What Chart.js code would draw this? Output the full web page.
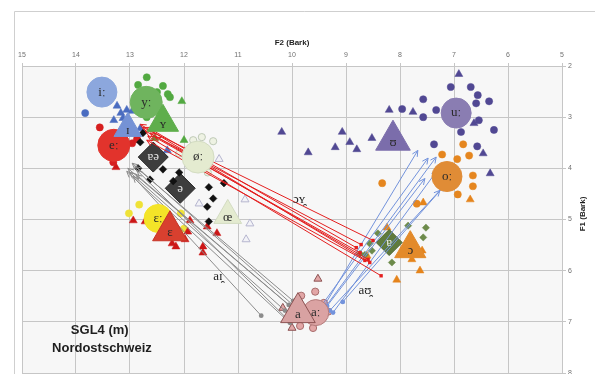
<!DOCTYPE html>
<html>
<head>
<meta charset="utf-8">
<script src="https://cdn.jsdelivr.net/npm/chart.js@4.4.0/dist/chart.umd.min.js"></script>
<style>
  html, body { margin: 0; padding: 0; background: #fff; }
  canvas { display: block; }
</style>
</head>
<body>
<canvas id="chart" width="595" height="374"></canvas>
<script>
// Vowel means (F2, F1 in Bark)
const LONG_LABELS = ['iː', 'yː', 'eː', 'øː', 'ɛː', 'oː', 'uː', 'aː'];
const LONG_F2 = [13.52, 12.70, 13.30, 11.74, 12.48, 7.13, 6.96, 9.56];
const LONG_F1 = [2.51, 2.71, 3.55, 3.78, 4.98, 4.16, 2.92, 6.82];

const SHORT_LABELS = ['ɪ', 'ʏ', 'ɛ', 'œ', 'ɔ', 'ʊ', 'a'];
const SHORT_F2 = [13.04, 12.39, 12.26, 11.19, 7.81, 8.13, 9.89];
const SHORT_F1 = [3.22, 3.10, 5.22, 4.92, 5.57, 3.45, 6.82];

const SCHWA_LABELS = ['ɐə', 'ə'];
const SCHWA_F2 = [12.57, 12.07];
const SCHWA_F1 = [3.78, 4.39];

const RVOC_LABELS = ['ɐ'];
const RVOC_F2 = [8.20];
const RVOC_F1 = [5.45];

// Single tokens [F2, F1]
const TOK_I_LONG = [[13.83, 2.92]];
const TOK_I_SHORT = [[13.24, 2.78], [13.17, 2.92], [13.06, 2.86], [12.96, 2.88], [13.30, 3.06], [13.13, 3.02], [12.81, 3.22], [12.31, 3.65]];
const TOK_Y_LONG = [[12.69, 2.22], [12.85, 2.37], [12.39, 2.39], [12.50, 2.51], [12.30, 2.55], [12.26, 2.61], [12.69, 3.00]];
const TOK_Y_SHORT = [[12.04, 2.69], [12.00, 3.45], [12.54, 3.41]];
const TOK_E_LONG = [[13.56, 3.20], [13.31, 3.88], [12.96, 3.51], [12.87, 3.43]];
const TOK_E_SHORT = [[13.26, 3.98], [12.94, 5.02], [12.72, 5.04], [11.89, 5.02], [11.93, 5.24], [11.98, 5.39], [12.22, 5.47], [12.15, 5.53], [11.65, 5.53], [11.65, 5.65], [11.57, 5.14], [11.39, 5.27]];
const TOK_EH_LONG = [[12.83, 4.71], [13.02, 4.88], [12.06, 4.88], [12.00, 5.18]];
const TOK_OE_LONG = [[11.83, 3.45], [11.67, 3.39], [11.46, 3.47], [12.09, 3.71], [11.56, 4.08]];
const TOK_OE_SHORT = [[11.35, 3.82], [10.87, 4.61], [10.78, 5.08], [10.85, 5.39], [11.72, 4.69]];
const TOK_U_LONG = [[7.06, 2.41], [6.69, 2.41], [6.56, 2.57], [6.59, 2.73], [6.35, 2.69], [7.57, 2.65], [7.33, 2.86], [7.57, 3.00], [7.96, 2.84], [6.54, 3.06], [6.87, 3.29], [6.26, 3.25], [6.57, 3.57], [7.37, 3.53]];
const TOK_U_SHORT = [[6.91, 2.16], [8.20, 2.86], [7.76, 2.90], [6.63, 3.12], [6.46, 3.71], [6.33, 4.10], [10.19, 3.29], [9.70, 3.69], [9.20, 3.59], [9.07, 3.29], [8.93, 3.49], [8.80, 3.63], [8.52, 3.41]];
const TOK_O_LONG = [[6.83, 3.53], [6.72, 3.75], [7.22, 3.73], [6.94, 3.82], [6.65, 4.14], [6.65, 4.35], [6.93, 4.51], [7.69, 4.69], [8.33, 4.29]];
const TOK_O_SHORT = [[6.70, 4.61], [7.57, 4.67], [8.24, 5.16], [7.59, 5.61], [7.63, 6.00], [8.06, 6.18], [8.61, 5.71], [7.78, 5.78]];
const TOK_A_LONG = [[9.57, 6.41], [9.83, 6.49], [9.41, 6.63], [9.33, 6.80], [9.61, 7.12], [9.85, 7.08]];
const TOK_A_SHORT = [[9.52, 6.16], [10.17, 6.73], [10.00, 7.12]];
const TOK_SCHWA = [[12.76, 3.31], [12.81, 3.49], [12.85, 4.00], [12.63, 4.22], [12.39, 4.02], [12.09, 4.08], [12.20, 4.25], [11.54, 4.37], [11.26, 4.29], [11.46, 4.59], [11.57, 4.75], [11.54, 5.04]];
const TOK_RVOC = [[7.85, 5.12], [7.52, 5.16], [7.57, 5.35], [7.81, 5.35], [8.41, 5.27], [8.56, 5.47], [8.52, 5.61], [8.65, 5.69], [8.74, 5.67], [8.15, 5.84]];

// Diphthong trajectories: onset -> offset
const OY_FROM = [[8.50, 5.41], [8.72, 5.49], [8.59, 5.78], [8.65, 5.80], [8.35, 6.10], [8.74, 5.65], [8.81, 5.55], [8.56, 5.84]];
const OY_TO = [[12.76, 3.20], [12.72, 3.27], [12.63, 3.31], [12.69, 3.45], [12.67, 3.37], [12.54, 3.39], [12.59, 3.25], [12.81, 3.14]];
const AI_FROM = [[10.06, 6.67], [10.13, 6.78], [10.57, 6.88], [9.98, 6.59], [9.94, 6.71], [10.09, 6.94], [10.04, 7.02], [9.89, 6.82]];
const AI_TO = [[13.04, 4.00], [13.00, 4.08], [12.94, 4.16], [12.91, 3.96], [12.96, 3.90], [12.87, 4.04], [13.06, 4.06], [12.89, 4.12]];
const AU_FROM = [[9.48, 6.82], [9.41, 6.75], [9.35, 6.69], [9.30, 6.78], [9.06, 6.61], [9.24, 6.82], [9.52, 6.78]];
const AU_TO = [[7.67, 3.65], [7.33, 3.78], [7.54, 4.20], [7.26, 4.43], [7.17, 4.33], [7.31, 4.04], [7.48, 3.80]];

const DIPH_LABELS = ['ɔʏ̯', 'aɪ̯', 'aʊ̯'];
const DIPH_F2 = [9.87, 11.37, 8.65];
const DIPH_F1 = [4.61, 6.12, 6.39];

const CAPTION = ['SGL4 (m)', 'Nordostschweiz'];
const CAPTION_F2 = [13.56, 13.52];
const CAPTION_F1 = [7.16, 7.51];

const X_TICKS = [5, 6, 7, 8, 9, 10, 11, 12, 13, 14, 15];
const Y_TICKS = [2, 3, 4, 5, 6, 7, 8];

// ---- helpers ----
const pts = arr => arr.map(([x, y]) => ({ x, y }));
const zip = (xs, ys) => xs.map((x, i) => ({ x, y: ys[i] }));

function tokens(data, style, color, opts = {}) {
  return Object.assign({
    data: pts(data),
    pointStyle: style,
    pointRadius: style === 'triangle' ? 4.6 : (style === 'rectRot' ? 4 : 3.6),
    backgroundColor: color,
    borderColor: color,
    borderWidth: 0.5,
    showLine: false
  }, opts);
}

function trajectories(from, to, color, startStyle) {
  return from.map((p, i) => ({
    data: pts([p, to[i]]),
    showLine: true,
    borderColor: color,
    borderWidth: 1,
    pointStyle: startStyle,
    pointRadius: [2.4, 0],
    backgroundColor: color,
    pointBorderWidth: 0,
    arrowColor: color
  }));
}

// back-to-front
const layers = [
  tokens(TOK_OE_SHORT, 'triangle', '#f2f2f7', { borderColor: '#b6b6cf', borderWidth: 1 }),
  tokens(TOK_OE_LONG, 'circle', '#eef2e3', { borderColor: '#bfcab7', borderWidth: 1 }),
  tokens(TOK_U_SHORT, 'triangle', '#514893'),
  tokens(TOK_U_LONG, 'circle', '#514893'),
  tokens(TOK_O_SHORT, 'triangle', '#e5841c'),
  tokens(TOK_O_LONG, 'circle', '#e5861f'),
  tokens(TOK_I_SHORT, 'triangle', '#4a6cc0'),
  tokens(TOK_I_LONG, 'circle', '#4a6cc0'),
  tokens(TOK_Y_LONG, 'circle', '#52a941'),
  tokens(TOK_Y_SHORT, 'triangle', '#52a941'),
  tokens(TOK_EH_LONG, 'circle', '#efe237'),
  tokens(TOK_E_SHORT, 'triangle', '#cc1717'),
  tokens(TOK_E_LONG, 'circle', '#d61f1f'),
  tokens(TOK_A_LONG, 'circle', '#e2a6a6', { borderColor: '#a86c6c', borderWidth: 1 }),
  tokens(TOK_A_SHORT, 'triangle', '#e2a6a6', { borderColor: '#8d5353', borderWidth: 1 }),
  {
    data: zip(RVOC_F2, RVOC_F1), pointStyle: 'rectRot', pointRadius: 13,
    backgroundColor: '#5f7b3d', borderColor: '#4e6630', borderWidth: 1,
    markerText: RVOC_LABELS, markerTextColor: '#eef0e6', markerFont: '13px "Liberation Serif"'
  },
  tokens(TOK_RVOC, 'rectRot', '#6d8b4b', { pointRadius: 3.6 }),
  {
    data: zip(SCHWA_F2, SCHWA_F1), pointStyle: 'rectRot', pointRadius: 15,
    backgroundColor: '#3d3d3d', borderColor: '#2a2a2a', borderWidth: 1,
    markerText: SCHWA_LABELS, markerTextColor: '#e6e6e6', markerFont: '13px "Liberation Serif"'
  },
  tokens(TOK_SCHWA, 'rectRot', '#111111', { pointRadius: 3.8 }),
  ...trajectories(AI_FROM, AI_TO, '#8c8c8c', 'circle'),
  ...trajectories(AU_FROM, AU_TO, '#7393dc', 'circle'),
  ...trajectories(OY_FROM, OY_TO, '#e41f1f', 'rect'),
  {
    data: zip(LONG_F2, LONG_F1), pointStyle: 'circle', pointRadius: [15, 16, 16, 16, 14, 15, 15, 13],
    backgroundColor: ['#8ca7dd', '#6fb45e', '#e2332c', '#e4ebd0', '#f4e428', '#e08c36', '#8a7db2', '#dba3a3'],
    borderColor: ['#8ca7dd', '#6fb45e', '#e2332c', '#d3dcc2', '#f4e428', '#e08c36', '#8a7db2', '#b57c7c'],
    borderWidth: 1,
    markerText: LONG_LABELS, markerTextColor: '#2a2a2a', markerFont: '13px "Liberation Serif"'
  },
  {
    data: zip(SHORT_F2, SHORT_F1), pointStyle: 'triangle', pointRadius: [16, 18, 20, 16, 18, 20, 20],
    backgroundColor: ['#7592d5', '#5fae4c', '#d8402f', '#e4ebd0', '#e38a2a', '#7b6dab', '#d8a2a2'],
    borderColor: ['#7592d5', '#5fae4c', '#c73326', '#d3dcc2', '#e38a2a', '#7b6dab', '#8d5353'],
    borderWidth: 1,
    markerText: SHORT_LABELS, markerTextColor: '#2a2a2a', markerFont: '13px "Liberation Serif"', markerTextDy: 2
  }
];
layers.forEach((ds, i) => { ds.order = layers.length - i; });

// ---- plugins ----
const frame = {
  id: 'frame',
  beforeDraw(chart) {
    const { ctx, chartArea: a } = chart;
    ctx.save();
    ctx.fillStyle = '#f7f7f7';
    ctx.fillRect(a.left, a.top, a.right - a.left, a.bottom - a.top);
    ctx.strokeStyle = '#cfcfcf';
    ctx.lineWidth = 1;
    ctx.beginPath();
    ctx.moveTo(14.5, 374);
    ctx.lineTo(14.5, 11.5);
    ctx.lineTo(595, 11.5);
    ctx.stroke();
    ctx.restore();
  }
};

const arrows = {
  id: 'arrows',
  afterDatasetDraw(chart, args) {
    const ds = chart.data.datasets[args.index];
    if (!ds.arrowColor) return;
    const [p0, p1] = args.meta.data;
    const ang = Math.atan2(p1.y - p0.y, p1.x - p0.x);
    const len = 6.5, spread = 0.45;
    const ctx = chart.ctx;
    ctx.save();
    ctx.strokeStyle = ds.arrowColor;
    ctx.lineWidth = 1;
    ctx.beginPath();
    ctx.moveTo(p1.x - len * Math.cos(ang - spread), p1.y - len * Math.sin(ang - spread));
    ctx.lineTo(p1.x, p1.y);
    ctx.lineTo(p1.x - len * Math.cos(ang + spread), p1.y - len * Math.sin(ang + spread));
    ctx.stroke();
    ctx.restore();
  }
};

const markerLabels = {
  id: 'markerLabels',
  afterDatasetsDraw(chart) {
    const ctx = chart.ctx;
    chart.data.datasets.forEach((ds, i) => {
      if (!ds.markerText) return;
      const meta = chart.getDatasetMeta(i);
      ctx.save();
      ctx.font = ds.markerFont;
      ctx.fillStyle = ds.markerTextColor;
      ctx.textAlign = 'center';
      ctx.textBaseline = 'middle';
      meta.data.forEach((el, j) => ctx.fillText(ds.markerText[j], el.x, el.y + (ds.markerTextDy || 0)));
      ctx.restore();
    });
  }
};

const annotations = {
  id: 'annotations',
  afterDraw(chart) {
    const { ctx, scales: { x, y }, chartArea: a } = chart;
    ctx.save();
    ctx.fillStyle = '#1e1e1e';
    ctx.textAlign = 'center';
    ctx.textBaseline = 'middle';
    ctx.font = '13px "Liberation Serif"';
    DIPH_LABELS.forEach((t, i) => ctx.fillText(t, x.getPixelForValue(DIPH_F2[i]), y.getPixelForValue(DIPH_F1[i])));
    ctx.font = 'bold 13px "Liberation Sans"';
    CAPTION.forEach((t, i) => ctx.fillText(t, x.getPixelForValue(CAPTION_F2[i]), y.getPixelForValue(CAPTION_F1[i])));
    // axis titles
    ctx.font = 'bold 8px "Liberation Sans"';
    ctx.fillText('F2 (Bark)', (a.left + a.right) / 2, 43);
    ctx.translate(583, 214);
    ctx.rotate(-Math.PI / 2);
    ctx.fillText('F1 (Bark)', 0, 0);
    ctx.restore();
  }
};

const tickFont = { family: '"Liberation Sans"', size: 7 };

new Chart(document.getElementById('chart'), {
  type: 'scatter',
  data: { datasets: layers },
  options: {
    responsive: false,
    animation: false,
    events: [],
    layout: { autoPadding: false, padding: { left: 22, right: 0, top: 0, bottom: 1 } },
    plugins: { legend: { display: false }, tooltip: { enabled: false } },
    scales: {
      x: {
        type: 'linear', position: 'top', reverse: true, min: 5, max: 15,
        afterBuildTicks(s) { s.ticks = X_TICKS.map(v => ({ value: v })); },
        ticks: { color: '#707070', font: tickFont, padding: 4, maxRotation: 0 },
        grid: { color: '#c6c6c6', lineWidth: 1, tickLength: 3 },
        border: { display: false },
        afterFit(s) { s.height = 66; s.paddingLeft = 0; s.paddingRight = 0; }
      },
      y: {
        type: 'linear', position: 'right', reverse: true, min: 2, max: 8,
        afterBuildTicks(s) { s.ticks = Y_TICKS.map(v => ({ value: v })); },
        ticks: { color: '#707070', font: tickFont, padding: 2 },
        grid: { color: '#c6c6c6', lineWidth: 1, tickLength: 4 },
        border: { display: false },
        afterFit(s) { s.width = 33; s.paddingTop = 0; s.paddingBottom = 0; }
      }
    }
  },
  plugins: [frame, arrows, markerLabels, annotations]
});
</script>
</body>
</html>
